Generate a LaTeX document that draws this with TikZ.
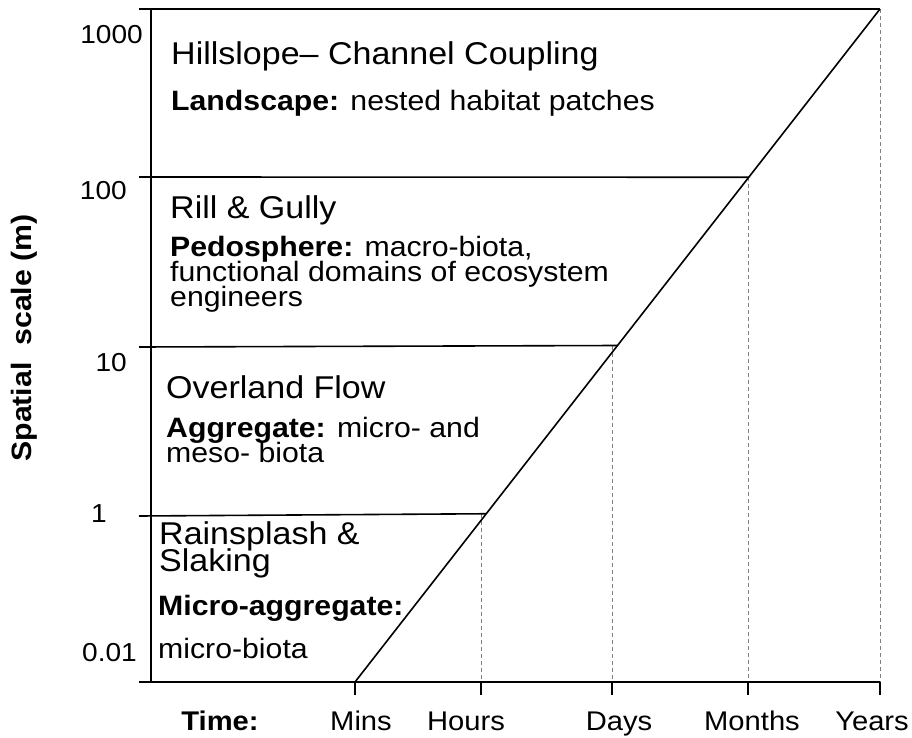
\documentclass[tikz,border=0pt]{standalone}
\usepackage{fontspec}
\setmainfont[FakeStretch=1.08]{Liberation Sans}
\usetikzlibrary{calc}
\begin{document}
\setlength{\lineskiplimit}{-60pt}
\begin{tikzpicture}[x=1pt,y=-1pt,
  axisline/.style={line width=1.6pt,black},
  guide/.style={gray,line width=0.8pt,dash pattern=on 4pt off 3pt},
  ttl/.style={anchor=base west,inner sep=0pt,font=\fontsize{31.5}{31.5}\selectfont},
  body/.style={anchor=base west,inner sep=0pt,font=\fontsize{28}{28}\selectfont},
  para/.style={anchor=north west,inner sep=0pt,align=left},
  ticklab/.style={anchor=base east,inner sep=0pt,font=\fontsize{26}{26}\selectfont},
  timelab/.style={anchor=base,inner sep=0pt,font=\fontsize{27}{27}\selectfont}]
\useasboundingbox (0,0) rectangle (912,738);
% axis corners and ticks
\coordinate (o) at (151,682);
\coordinate (tl) at (151,9);
\coordinate (m) at (355,682);
\coordinate (h) at (481,682);
\coordinate (d) at (612,682);
\coordinate (mo) at (748,682);
\coordinate (yr) at (880,682);
\coordinate (top) at (880,9);
\coordinate (l0) at (139,682);
\coordinate (l1) at (139,516);
\coordinate (l10) at (139,347);
\coordinate (l100) at (139,177);
\coordinate (l1000) at (139,9);
\coordinate (p1) at ($(m)!0.25!(top)$);
\coordinate (p10) at ($(m)!0.5!(top)$);
\coordinate (p100) at ($(m)!0.75!(top)$);
% guides
\draw[guide] (h |- p1) -- (h);
\draw[guide] (d |- p10) -- (d);
\draw[guide] (mo |- p100) -- (mo);
\draw[guide] (top) -- (yr);
% axes and bands
\draw[axisline] (tl) -- (o);
\draw[axisline] (l0) -- (yr);
\draw[axisline] (l1000) -- (top);
\draw[axisline] (l100) -- (p100);
\draw[axisline] (l10) -- (p10);
\draw[axisline] (l1) -- (p1);
\draw[axisline] (m) -- (top);
\foreach \t in {m,h,d,mo,yr} \draw[axisline] (\t) -- ++(0,13);
% tick labels
\node[ticklab] (t1000) at (143,44) {1000};
\node[ticklab] (t100) at (127,200) {100};
\node[ticklab] (t10) at (127,371) {10};
\node[ticklab] (t1) at (107,522) {1};
\node[ticklab] (t001) at (137,661) {0.01};
% y title
\node[rotate=90,inner sep=0pt,font=\bfseries\fontsize{28}{28}\selectfont] (ylab) at (24,338) {Spatial\ \ scale (m)};
% time labels
\node[timelab,font=\bfseries\fontsize{27}{27}\selectfont] (time) at (220,730) {Time:};
\node[timelab] (tmins) at (361,730) {Mins};
\node[timelab] (thours) at (466,730) {Hours};
\node[timelab] (tdays) at (619,730) {Days};
\node[timelab] (tmonths) at (752,730) {Months};
\node[timelab] (tyears) at (872,730) {Years};
% band texts
\node[ttl] (hill) at (171,65) {Hillslope– Channel Coupling};
\node[body] (land) at (171,111) {\textbf{Landscape:} nested habitat patches};
\node[ttl] (rill) at (170,218) {Rill \& Gully};
\node[para,font=\fontsize{28}{25}\selectfont] (ped) at (170,236)
  {\textbf{Pedosphere:} macro-biota,\\functional domains of ecosystem\\engineers};
\node[ttl] (over) at (166,398) {Overland Flow};
\node[para,font=\fontsize{28}{25}\selectfont] (agg) at (166,417)
  {\textbf{Aggregate:} micro- and\\meso- biota};
\node[para,font=\fontsize{31.5}{27}\selectfont] (rain) at (159,521)
  {Rainsplash \&\\Slaking};
\node[body] (micro1) at (158,615) {\textbf{Micro-aggregate:}};
\node[body] (micro2) at (158,658) {micro-biota};
\end{tikzpicture}
\end{document}
